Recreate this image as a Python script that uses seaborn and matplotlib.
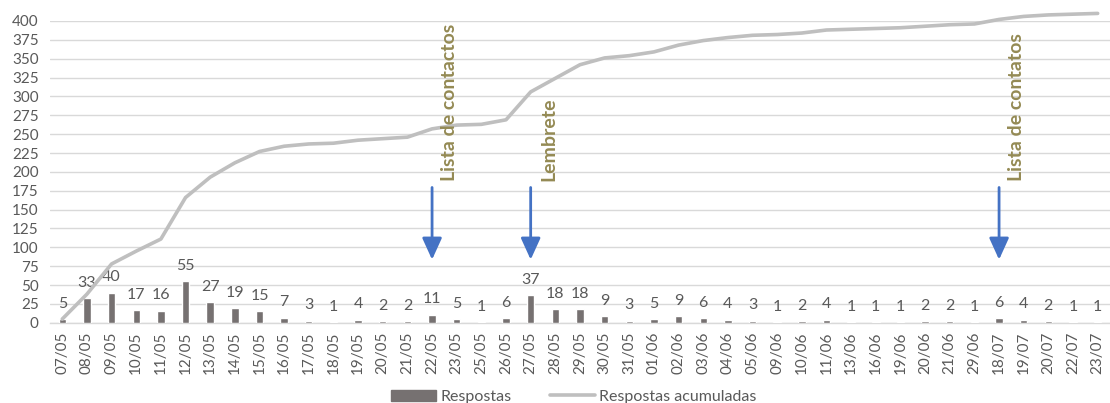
import numpy as np
import pandas as pd
import matplotlib
matplotlib.use("Agg")
import matplotlib.pyplot as plt
import seaborn as sns
from matplotlib.ticker import FixedLocator, MultipleLocator
from matplotlib.patches import Patch
from matplotlib.lines import Line2D

dates = ["07/05", "08/05", "09/05", "10/05", "11/05", "12/05", "13/05", "14/05", "15/05",
         "16/05", "17/05", "18/05", "19/05", "20/05", "21/05", "22/05", "23/05", "25/05",
         "26/05", "27/05", "28/05", "29/05", "30/05", "31/05", "01/06", "02/06", "03/06",
         "04/06", "05/06", "09/06", "10/06", "11/06", "13/06", "16/06", "19/06", "20/06",
         "21/06", "29/06", "18/07", "19/07", "20/07", "22/07", "23/07"]
respostas = [5, 33, 40, 17, 16, 55, 27, 19, 15, 7, 3, 1, 4, 2, 2, 11, 5, 1, 6, 37, 18, 18,
             9, 3, 5, 9, 6, 4, 3, 1, 2, 4, 1, 1, 1, 2, 2, 1, 6, 4, 2, 1, 1]
acumuladas = [5, 38, 78, 95, 111, 166, 193, 212, 227, 234, 237, 238, 242, 244, 246, 257,
              262, 263, 269, 306, 324, 342, 351, 354, 359, 368, 374, 378, 381, 382, 384,
              388, 389, 390, 391, 393, 395, 396, 402, 406, 408, 409, 410]
event_dates = ["22/05", "27/05", "18/07"]
event_labels = ["Lista de contactos", "Lembrete", "Lista de contatos"]

sns.set_theme(style="white")
plt.rcParams["font.family"] = ["Lato", "DejaVu Sans"]

BAR = "#767171"
LINE = "#BFBFBF"
TXT = "#595959"
ARROW = "#4472C4"
OLIVE = "#948A54"

df = pd.DataFrame({"data": dates, "Respostas": respostas,
                   "pos": np.arange(len(dates)), "Acum": acumuladas})

fig = plt.figure(figsize=(11.10, 4.03), dpi=100)
ax = fig.add_axes([0.045, 0.199, 0.955, 0.749])

sns.barplot(data=df, x="data", y="Respostas", color=BAR, width=0.3, saturation=1,
            ax=ax, zorder=3)
ax.bar_label(ax.containers[0], labels=[str(v) for v in respostas], padding=6,
             fontsize=11.5, color=TXT)
sns.lineplot(data=df, x="pos", y="Acum", color=LINE, linewidth=2.6, ax=ax,
             zorder=4, clip_on=False)

ax.set_xlim(-0.5, len(dates) - 0.5)
ax.set_ylim(0, 400)
ax.yaxis.set_major_locator(MultipleLocator(25))
ax.grid(axis="y", color="#D9D9D9", linewidth=1, zorder=0)
ax.grid(axis="x", visible=False)
for s in ["top", "right", "left"]:
    ax.spines[s].set_visible(False)
ax.spines["bottom"].set_color("#D9D9D9")
ax.spines["bottom"].set_linewidth(1)

ax.set_xticks(np.arange(len(dates)))
ax.set_xticklabels(dates, rotation=90, fontsize=11, color=TXT)
ax.tick_params(axis="x", which="major", length=0, pad=6)
ax.xaxis.set_minor_locator(FixedLocator(np.arange(-0.5, len(dates), 1.0)))
ax.tick_params(axis="x", which="minor", length=5, color="#D9D9D9", width=1,
               direction="out")
ax.tick_params(axis="y", length=0, labelsize=11, labelcolor=TXT, pad=8)
ax.set_xlabel("")
ax.set_ylabel("")

for d, lab in zip(event_dates, event_labels):
    i = dates.index(d)
    ax.annotate("", xy=(i, 80), xytext=(i, 183),
                arrowprops=dict(arrowstyle="-|>,head_width=0.5,head_length=1.1",
                                color=ARROW, lw=2), zorder=5)
    ax.text(i + 0.72, 188, lab, rotation=90, ha="center", va="bottom",
            fontsize=14, fontweight="bold", color=OLIVE, zorder=6)

handles = [Patch(facecolor=BAR, edgecolor=BAR),
           Line2D([0], [0], color=LINE, linewidth=2.6)]
fig.legend(handles, ["Respostas", "Respostas acumuladas"], loc="center",
           bbox_to_anchor=(0.517, 0.015), ncol=2, frameon=False, fontsize=11.5,
           labelcolor=TXT, handlelength=2.8, handleheight=0.7, columnspacing=2.4,
           handletextpad=0.3)

fig.savefig("out.png", dpi=100)
